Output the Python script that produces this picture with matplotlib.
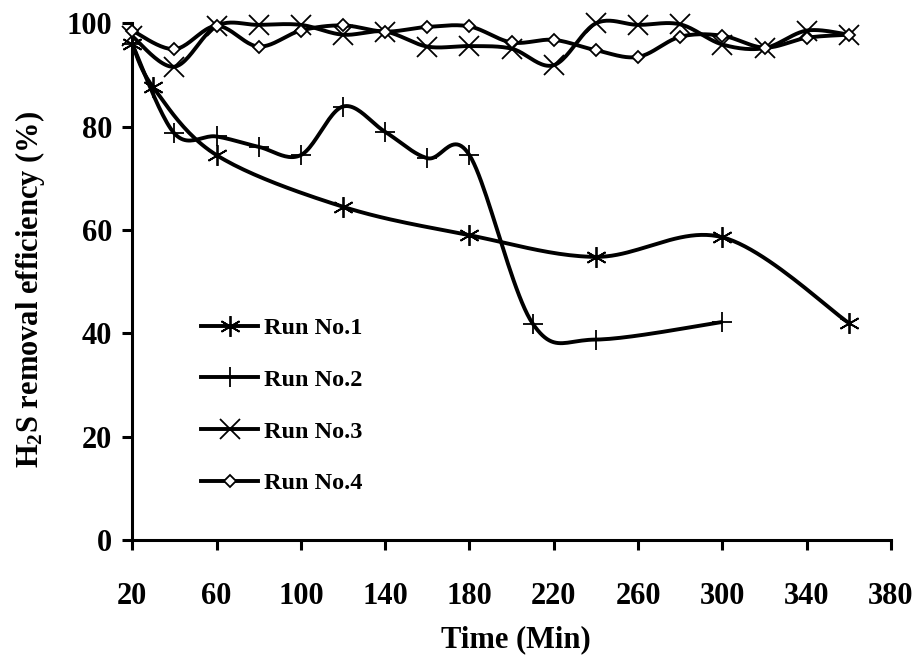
import numpy as np
import matplotlib
matplotlib.use("Agg")
import matplotlib.pyplot as plt

plt.rcParams['font.family'] = ['Liberation Serif', 'DejaVu Serif']
plt.rcParams['font.weight'] = 'bold'
plt.rcParams['mathtext.fontset'] = 'custom'
plt.rcParams['mathtext.rm'] = 'Liberation Serif:bold'
plt.rcParams['mathtext.bf'] = 'Liberation Serif:bold'
plt.rcParams['mathtext.default'] = 'rm'

# ---- data ----
run1_t = [20, 30, 60, 120, 180, 240, 300, 360]
run1_v = [96, 87.6, 74.5, 64.5, 59.0, 54.8, 58.6, 42.0]

run2_t = [20, 40, 60, 80, 100, 120, 140, 160, 180, 210, 240, 300]
run2_v = [96, 78.7, 78.1, 76.1, 74.5, 83.9, 79.0, 73.9, 74.5, 41.9, 38.8, 42.2]

run3_t = [20, 40, 60, 80, 100, 120, 140, 160, 180, 200, 220, 240, 260, 280, 300, 320, 340, 360]
run3_v = [97.5, 91.6, 99.5, 99.7, 99.7, 97.8, 98.4, 95.5, 95.6, 95.1, 91.9, 100, 99.7, 99.8, 95.9, 95.2, 98.6, 97.8]

run4_t = [20, 40, 60, 80, 100, 120, 140, 160, 180, 200, 220, 240, 260, 280, 300, 320, 340, 360]
run4_v = [98.6, 95.0, 99.5, 95.5, 98.6, 99.6, 98.4, 99.3, 99.4, 96.3, 96.8, 94.8, 93.5, 97.4, 97.6, 95.3, 97.2, 97.8]

labels = ["Run No.1", "Run No.2", "Run No.3", "Run No.4"]
x_ticks = [20, 60, 100, 140, 180, 220, 260, 300, 340, 380]
y_ticks = [0, 20, 40, 60, 80, 100]


def smooth(t, v, n=24):
    """Catmull-Rom (Excel-like smoothed line) through the data points."""
    p = np.column_stack([t, v]).astype(float)
    p = np.vstack([p[0], p, p[-1]])
    out = []
    for i in range(1, len(p) - 2):
        p0, p1, p2, p3 = p[i - 1], p[i], p[i + 1], p[i + 2]
        s = np.linspace(0, 1, n, endpoint=False)[:, None]
        c1 = p1 + (p2 - p0) / 6.0
        c2 = p2 - (p3 - p1) / 6.0
        b = ((1 - s) ** 3) * p1 + 3 * ((1 - s) ** 2) * s * c1 + 3 * (1 - s) * s ** 2 * c2 + s ** 3 * p2
        out.append(b)
    out.append(p[-2][None, :])
    out = np.vstack(out)
    return out[:, 0], out[:, 1]


ast = (6, 2, 0)  # asterisk marker

fig = plt.figure(figsize=(9.18, 6.57), dpi=100)
ax = fig.add_axes([0.144, 0.178, 0.8266, 0.7865])

lw = 2.8
series = [
    (run1_t, run1_v, ast, 15, 'black'),
    (run2_t, run2_v, '+', 15, 'black'),
    (run3_t, run3_v, 'x', 14, 'black'),
    (run4_t, run4_v, 'D', 6.5, 'white'),
]
handles = []
for (t, v, m, ms, fc), lab in zip(series, labels):
    sx, sy = smooth(t, v)
    ax.plot(sx, sy, color='black', lw=lw, solid_capstyle='butt', zorder=2, clip_on=False)
    ax.plot(t, v, linestyle='none', marker=m, ms=ms, mec='black', mfc=fc, mew=1.3,
            zorder=3, clip_on=False)
    h, = ax.plot([], [], color='black', lw=lw, marker=m, ms=ms, mec='black', mfc=fc, mew=1.3)
    handles.append(h)

ax.set_xlim(20, 380)
ax.set_ylim(0, 100)
ax.set_xticks(x_ticks)
ax.set_yticks(y_ticks)
ax.spines['top'].set_visible(False)
ax.spines['right'].set_visible(False)
for s in ['left', 'bottom']:
    ax.spines[s].set_linewidth(2.2)
ax.tick_params(axis='both', direction='out', length=7, width=2.2, labelsize=22)
ax.tick_params(axis='y', pad=7.5)
ax.tick_params(axis='x', pad=23)
for lbl in ax.get_xticklabels() + ax.get_yticklabels():
    lbl.set_fontweight('bold')

ax.set_xlabel("Time (Min)", fontsize=22, fontweight='bold', va='center')
ax.set_ylabel(r"H$_{2}$S removal efficiency (%)", fontsize=22, fontweight='bold', va='center')
ax.xaxis.set_label_coords(0.5055, -0.1935)
ax.yaxis.set_label_coords(-0.135, 0.485)

leg = ax.legend(handles, labels, loc='center left', bbox_to_anchor=(0.078, 0.26),
                frameon=False, fontsize=17.5, handlelength=2.35, handletextpad=0.25,
                labelspacing=1.22, borderaxespad=0)
for tx in leg.get_texts():
    tx.set_fontweight('bold')

fig.savefig("out.png", dpi=100)
